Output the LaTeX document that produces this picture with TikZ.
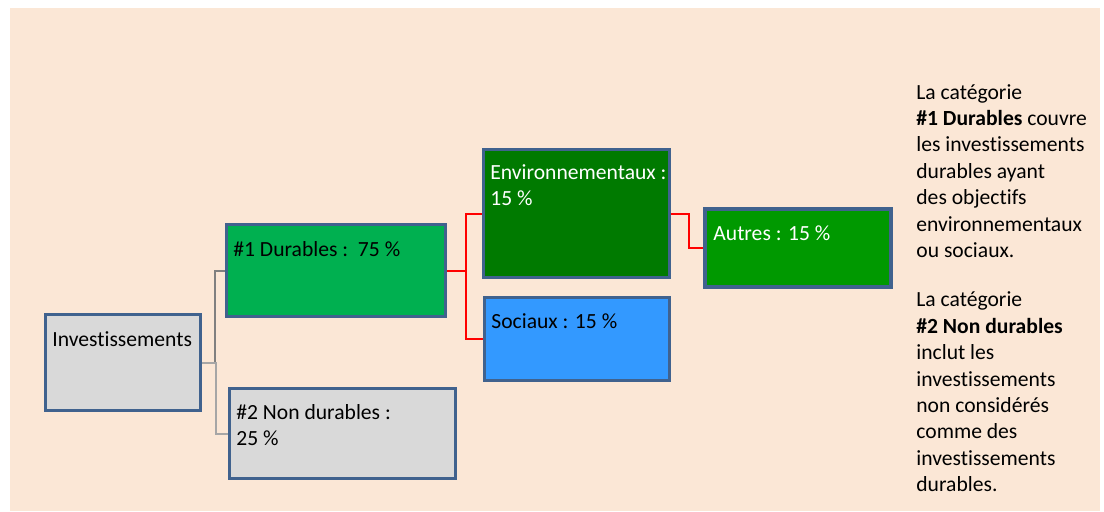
\documentclass[tikz,border=0pt]{standalone}
\usepackage{fontspec}
\setmainfont{Carlito}[Ligatures=NoCommon]
\usepackage{tikz}
\usetikzlibrary{calc}
\definecolor{fond}{RGB}{251,231,214}
\definecolor{bord}{RGB}{64,98,142}
\definecolor{grisclair}{RGB}{217,217,217}
\definecolor{vertdur}{RGB}{0,176,80}
\definecolor{vertenv}{RGB}{0,122,0}
\definecolor{vertautre}{RGB}{0,153,0}
\definecolor{bleusoc}{RGB}{51,153,255}
\newcommand{\lignes}[1]{\begin{tabular}[t]{@{}l@{}}#1\end{tabular}}
\tikzset{
    boite/.style={draw=bord, line width=1.5pt, rectangle, inner sep=0pt},
    texte/.style={anchor=base west, inner sep=0pt,
        font=\fontsize{10.8}{13.2}\selectfont},
    lien/.style={line width=1pt},
}

\begin{document}
\begin{tikzpicture}[x=0.5pt, y=-0.5pt]
    \useasboundingbox (0,0) rectangle (1104,511);
    \fill[fond] (10,8) rectangle (1100,511);
    \node[boite, fill=grisclair, minimum width=77.5pt, minimum height=48pt] (inv) at (123,362.5) {};
    \node[boite, fill=vertdur, minimum width=109.5pt, minimum height=46pt] (dur) at (336,270.5) {};
    \node[boite, fill=grisclair, minimum width=113pt, minimum height=45pt] (nondur) at (342.5,433.5) {};
    \node[boite, fill=vertenv, minimum width=93pt, minimum height=64pt] (env) at (576.5,213.5) {};
    \node[boite, fill=bleusoc, minimum width=92.5pt, minimum height=41.5pt] (soc) at (577,339) {};
    \node[boite, line width=2pt, fill=vertautre, minimum width=93pt, minimum height=39pt] (autres) at (798,248) {};
    \node[texte] (tinv) at ([shift={(8,33)}]inv.north west) {Investissements};
    \node[texte] (tdur) at ([shift={(8,33)}]dur.north west) {\#1 Durables :\ \ 75 \%};
    \node[texte] (tnondur) at ([shift={(8,32)}]nondur.north west) {\lignes{\#2 Non durables :\\25 \%}};
    \node[texte, text=white] (tenv) at ([shift={(8,31)}]env.north west) {\lignes{Environnementaux :\\15 \%}};
    \node[texte] (tsoc) at ([shift={(8,32)}]soc.north west) {Sociaux : 15 \%};
    \node[texte, text=white] (tautres) at ([shift={(10,33)}]autres.north west) {Autres : 15 \%};
    \draw[lien, draw={rgb,255:red,128;green,128;blue,128}] (inv.east) -- ++(12.5,0) |- (dur.west);
    \draw[lien, draw={rgb,255:red,166;green,166;blue,166}] (inv.east) -- ++(14,0) |- (nondur.west);
    \draw[lien, red] (dur.east) -- ++(18.5,0) |- (env.west);
    \draw[lien, red] (dur.east) -- ++(18.5,0) |- (soc.west);
    \draw[lien, red] (env.east) -- ++(17.5,0) |- (autres.west);
    \node[texte] (notes) at (916,99) {\lignes{La catégorie\\
        \textbf{\#1 Durables} couvre\\
        les investissements\\
        durables ayant\\
        des objectifs\\
        environnementaux\\
        ou sociaux.\\[11.5pt]
        La catégorie\\
        \textbf{\#2 Non durables}\\
        inclut les\\
        investissements\\
        non considérés\\
        comme des\\
        investissements\\
        durables.}};
\end{tikzpicture}
\end{document}
